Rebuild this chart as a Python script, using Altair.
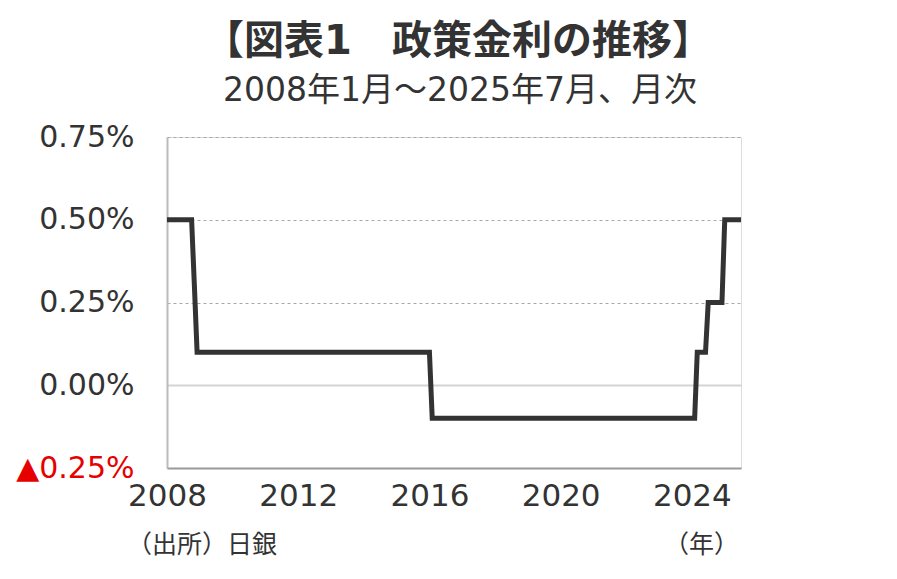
import altair as alt
import pandas as pd

# Policy rate vertices (monthly), %
dates = ["2008-01-01", "2008-10-01", "2008-11-01", "2008-12-01", "2016-01-01",
         "2016-02-01", "2024-02-01", "2024-03-01", "2024-06-01", "2024-07-01",
         "2024-12-01", "2025-01-01", "2025-07-01"]
rates = [0.5, 0.5, 0.3, 0.1, 0.1, -0.1, -0.1, 0.1, 0.1, 0.25, 0.25, 0.5, 0.5]

y_ticks = [-0.25, 0, 0.25, 0.5, 0.75]
x_tick_years = [2008, 2012, 2016, 2020, 2024]

title_text = "【図表1\u3000政策金利の推移】"
subtitle_text = "2008年1月～2025年7月、月次"
source_text = "（出所）日銀"
unit_text = "（年）"

FONT = "DejaVu Sans, Noto Sans CJK JP"
W, H = 574, 331

df = pd.DataFrame({"date": dates, "rate": rates})

x_enc = alt.X(
    "date:T",
    scale=alt.Scale(type="utc",
                    domain=[alt.DateTime(year=2008, month=1, date=1, utc=True),
                            alt.DateTime(year=2025, month=7, date=1, utc=True)],
                    nice=False),
    axis=alt.Axis(
        values=[alt.DateTime(year=y, month=1, date=1, utc=True) for y in x_tick_years],
        labelExpr="utcFormat(datum.value, '%Y')",
        title=None, ticks=False, tickSize=0, labelPadding=13,
        labelFlush=False, labelOverlap=False, labelBound=False,
        labelFont=FONT, labelFontSize=31, labelColor="#333333",
        domainColor="#999999", domainWidth=2, grid=False,
    ),
)

y_enc = alt.Y(
    "rate:Q",
    scale=alt.Scale(domain=[-0.25, 0.75], nice=False, zero=False),
    axis=alt.Axis(
        values=y_ticks,
        labelExpr="datum.value < 0 ? '▲' + format(-datum.value, '.2f') + '%' : format(datum.value, '.2f') + '%'",
        labelColor={"condition": {"test": "datum.value < 0", "value": "#e60000"}, "value": "#333333"},
        title=None, ticks=False, tickSize=0, labelPadding=33,
        labelFlush=False, labelOverlap=False,
        labelFont=FONT, labelFontSize=30,
        domainColor="#bbbbbb", domainWidth=2,
        grid=True,
        gridColor={"condition": {"test": "datum.value === 0", "value": "#d4d4d4"}, "value": "#a8a8a8"},
        gridDash={"condition": {"test": "datum.value === 0", "value": []}, "value": [3, 3]},
        gridWidth={"condition": {"test": "datum.value === 0", "value": 2}, "value": 1},
    ),
)

line = alt.Chart(df).mark_line(color="#333333", strokeWidth=5, strokeJoin="miter").encode(
    x=x_enc, y=y_enc
)

title = alt.Chart(pd.DataFrame({"t": [title_text]})).mark_text(
    font=FONT, fontSize=40, fontWeight="bold", color="#333333",
    align="center", baseline="middle").encode(
    text="t:N", x=alt.value(291), y=alt.value(-95))

sub = alt.Chart(pd.DataFrame({"t": [subtitle_text]})).mark_text(
    font=FONT, fontSize=33, color="#333333", align="center", baseline="middle").encode(
    text="t:N", x=alt.value(293), y=alt.value(-46))

src = alt.Chart(pd.DataFrame({"t": [source_text]})).mark_text(
    font=FONT, fontSize=25, color="#333333", align="left", baseline="middle").encode(
    text="t:N", x=alt.value(-40), y=alt.value(408))

unit = alt.Chart(pd.DataFrame({"t": [unit_text]})).mark_text(
    font=FONT, fontSize=25, color="#333333", align="right", baseline="middle").encode(
    text="t:N", x=alt.value(572), y=alt.value(408))

chart = alt.layer(line, title, sub, src, unit).properties(
    width=W, height=H,
    autosize=alt.AutoSizeParams(type="none"),
    padding={"left": 159, "top": 129, "right": 140, "bottom": 100},
).configure_view(stroke="#bbbbbb", strokeWidth=2).configure(background="white")

chart.save("out.html", embed_options={"renderer": "svg", "actions": False})
